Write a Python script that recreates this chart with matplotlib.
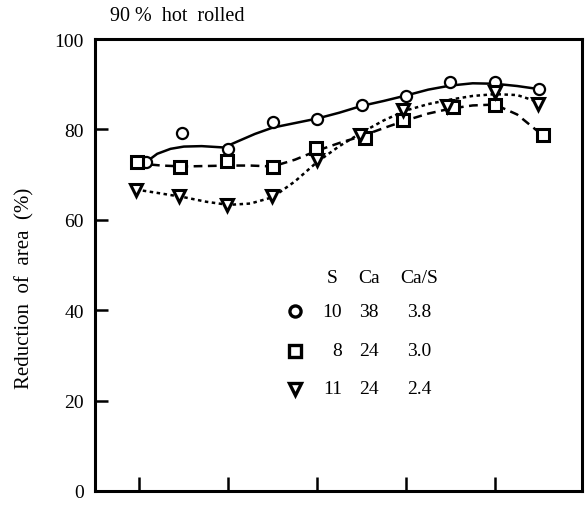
import matplotlib
matplotlib.use('Agg')
from matplotlib import pyplot as plt

# measured points (x in tick units, y = reduction of area %)
x_circ = [1.07, 1.48, 2.0, 2.5, 3.0, 3.5, 4.0, 4.5, 5.0, 5.5]
y_circ = [72.7, 79.3, 75.6, 81.6, 82.2, 85.3, 87.3, 90.4, 90.4, 88.9]

x_sq = [0.97, 1.46, 1.98, 2.5, 2.99, 3.54, 3.97, 4.53, 5.0, 5.54]
y_sq = [72.7, 71.6, 73.1, 71.6, 75.8, 78.2, 82.0, 84.9, 85.3, 78.7]

x_tri = [0.96, 1.44, 1.99, 2.49, 3.0, 3.48, 3.97, 4.46, 5.0, 5.48]
y_tri = [66.7, 65.3, 63.3, 65.3, 73.3, 78.7, 84.2, 85.1, 88.2, 85.6]

# hand drawn fit curves
cx_circ = [1.07, 1.2, 1.35, 1.5, 1.7, 1.95, 2.1, 2.3, 2.5, 2.75, 3.0, 3.25, 3.5,
           3.75, 4.0, 4.25, 4.5, 4.75, 5.0, 5.25, 5.5]
cy_circ = [72.7, 74.6, 75.7, 76.2, 76.3, 76.0, 77.3, 79.0, 80.4, 81.4, 82.4, 83.7,
           85.2, 86.3, 87.5, 88.8, 89.7, 90.2, 90.1, 89.6, 88.9]

cx_sq = [0.97, 1.25, 1.5, 1.75, 2.0, 2.25, 2.5, 2.75, 3.0, 3.25, 3.5, 3.75, 4.0,
         4.25, 4.5, 4.75, 5.0, 5.25, 5.5]
cy_sq = [72.5, 72.0, 71.8, 71.9, 72.0, 72.0, 71.8, 73.3, 75.3, 77.0, 78.5, 80.3,
         82.0, 83.5, 84.6, 85.3, 85.5, 83.3, 79.3]

cx_tri = [0.96, 1.25, 1.5, 1.75, 2.0, 2.25, 2.5, 2.75, 3.0, 3.25, 3.5, 3.75, 4.0,
          4.25, 4.5, 4.75, 5.0, 5.25, 5.5]
cy_tri = [66.7, 65.8, 65.0, 64.0, 63.3, 63.6, 65.0, 68.5, 72.8, 76.3, 79.3, 82.0,
          84.2, 85.6, 86.6, 87.4, 87.8, 87.6, 86.0]

# legend table
leg_header = ['S', 'Ca', 'Ca/S']
leg_rows = [['10', '38', '3.8'], ['8', '24', '3.0'], ['11', '24', '2.4']]
leg_markers = ['o', 's', 'v']

y_ticks = [0, 20, 40, 60, 80, 100]
x_ticks = [1, 2, 3, 4, 5]

font = 'Liberation Serif'
plt.rcParams['font.family'] = font

fig = plt.figure(figsize=(5.85, 5.06), dpi=100)
ax = fig.add_axes([95 / 585, 14 / 506, 487 / 585, 452 / 506])

# curves
ax.plot(cx_circ, cy_circ, '-', color='black', linewidth=1.8)
ax.plot(cx_sq, cy_sq, color='black', linewidth=1.8, dashes=(3.5, 2.2))
ax.plot(cx_tri, cy_tri, color='black', linewidth=1.8, dashes=(1.4, 1.4))

# markers
ax.plot(x_circ, y_circ, 'o', markersize=8, markerfacecolor='white',
        markeredgecolor='black', markeredgewidth=1.6)
ax.plot(x_sq, y_sq, 's', markersize=8, markerfacecolor='white',
        markeredgecolor='black', markeredgewidth=2.2)
ax.plot(x_tri, y_tri, 'v', markersize=9, markerfacecolor='white',
        markeredgecolor='black', markeredgewidth=2.2)

ax.set_xlim(0.5, 5.98)
ax.set_ylim(0, 100)
ax.set_xticks(x_ticks)
ax.set_xticklabels([])
ax.set_yticks(y_ticks)
ax.set_yticklabels([str(t) for t in y_ticks], fontsize=14)
ax.tick_params(axis='x', direction='in', length=10, width=1.8)
ax.tick_params(axis='y', direction='in', length=9, width=1.8, pad=8)

for spine in ax.spines.values():
    spine.set_linewidth(2.2)

ax.set_ylabel('Reduction  of  area  (%)', fontsize=15)
ax.yaxis.set_label_coords(-0.125, 0.45)

ax.text(0.03, 1.03, '90 %  hot  rolled', transform=ax.transAxes, fontsize=14.5,
        ha='left', va='bottom')

# legend as a small table
col_x = [0.487, 0.563, 0.666]
head_y = 0.473
row_y = [0.398, 0.31, 0.226]
for j, h in enumerate(leg_header):
    ax.text(col_x[j], head_y, h, transform=ax.transAxes, fontsize=14, ha='center', va='center')
for i, row in enumerate(leg_rows):
    ax.plot([0.411], [row_y[i]], leg_markers[i], transform=ax.transAxes,
            markersize=8, markerfacecolor='white', markeredgecolor='black',
            markeredgewidth=2.4, clip_on=False)
    ax.text(col_x[0] + 0.02, row_y[i], row[0], transform=ax.transAxes, fontsize=14, ha='right', va='center')
    ax.text(col_x[1], row_y[i], row[1], transform=ax.transAxes, fontsize=14, ha='center', va='center')
    ax.text(col_x[2], row_y[i], row[2], transform=ax.transAxes, fontsize=14, ha='center', va='center')

plt.savefig('out.png', dpi=100)
